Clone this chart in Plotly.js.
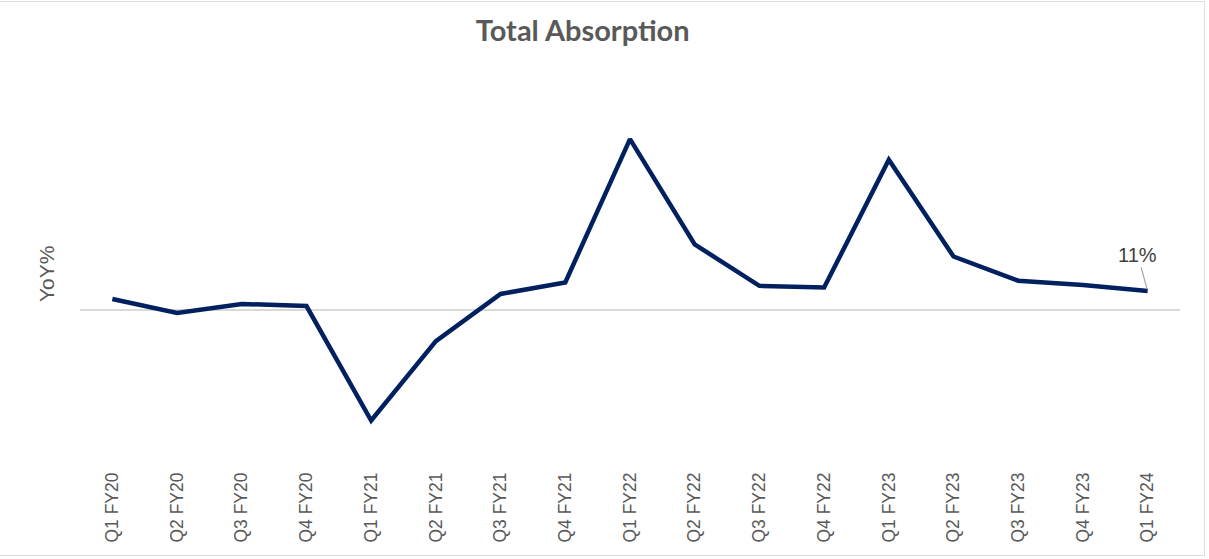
<!DOCTYPE html>
<html>
<head>
<meta charset="utf-8">
<script src="https://cdn.plot.ly/plotly-3.0.1.min.js"></script>
<style>
  html, body { margin: 0; padding: 0; background: #ffffff; }
  #chart { width: 1209px; height: 559px; }
  #frame { position: absolute; left: -1px; top: 1px; width: 1206px; height: 555px;
           border: 1px solid #dedede; pointer-events: none; box-sizing: border-box; }
</style>
</head>
<body>
<div id="chart"></div>
<div id="frame"></div>
<script>
const quarters = ["Q1 FY20","Q2 FY20","Q3 FY20","Q4 FY20","Q1 FY21","Q2 FY21","Q3 FY21","Q4 FY21",
                  "Q1 FY22","Q2 FY22","Q3 FY22","Q4 FY22","Q1 FY23","Q2 FY23","Q3 FY23","Q4 FY23","Q1 FY24"];
const yoyPct = [6.4, -1.7, 3.5, 2.3, -64, -18, 9.3, 16, 99, 38, 14, 13, 87, 31, 17, 14.5, 11];
const lastLabel = "11%";
const yTitle = "YoY%";

const trace = {
  x: quarters,
  y: yoyPct,
  type: "scatter",
  mode: "lines",
  line: { color: "#002060", width: 4.5 },
  hoverinfo: "x+y"
};

const layout = {
  width: 1209,
  height: 559,
  paper_bgcolor: "#ffffff",
  plot_bgcolor: "#ffffff",
  margin: { l: 80, r: 29, t: 60, b: 96 },
  title: {
    text: "<b>Total Absorption</b>",
    font: { family: "Lato, 'Open Sans', sans-serif", size: 29, color: "#595959" },
    x: 0.482, xanchor: "center", y: 0.945, yanchor: "middle"
  },
  showlegend: false,
  xaxis: {
    type: "category",
    range: [-0.5, 16.5],
    showgrid: false,
    showline: false,
    zeroline: false,
    ticks: "",
    tickangle: -90,
    ticklabelstandoff: 5,
    tickfont: { family: "'Liberation Sans', Arial, sans-serif", size: 17.5, color: "#595959" },
    fixedrange: true
  },
  yaxis: {
    range: [-88.6, 144.8],
    showgrid: false,
    showline: false,
    showticklabels: false,
    ticks: "",
    zeroline: true,
    zerolinecolor: "#d9d9d9",
    zerolinewidth: 1.5,
    fixedrange: true
  },
  annotations: [{
    x: quarters[quarters.length - 1],
    y: yoyPct[yoyPct.length - 1],
    xref: "x", yref: "y",
    text: lastLabel,
    showarrow: true,
    arrowhead: 0,
    arrowwidth: 1.2,
    arrowcolor: "#a6a6a6",
    ax: -10, ay: -36,
    standoff: 2,
    font: { family: "'Liberation Sans', Arial, sans-serif", size: 20, color: "#404040" }
  }, {
    xref: "paper", yref: "paper",
    x: -0.03, y: 0.469,
    xanchor: "center", yanchor: "middle",
    text: yTitle,
    textangle: -90,
    showarrow: false,
    font: { family: "'Liberation Sans', Arial, sans-serif", size: 21, color: "#595959" }
  }]
};

Plotly.newPlot("chart", [trace], layout, { displayModeBar: false, staticPlot: true });
</script>
</body>
</html>
